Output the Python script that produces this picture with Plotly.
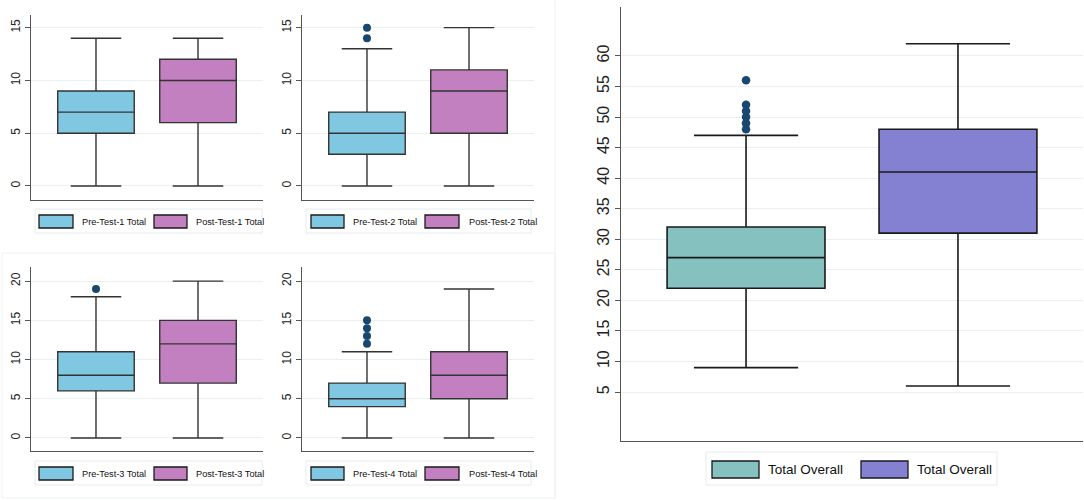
import plotly.graph_objects as go

W, H = 1084, 500

# ---------------- data ----------------
panel_labels = [
    ["Pre-Test-1 Total", "Post-Test-1 Total"],
    ["Pre-Test-2 Total", "Post-Test-2 Total"],
    ["Pre-Test-3 Total", "Post-Test-3 Total"],
    ["Pre-Test-4 Total", "Post-Test-4 Total"],
    ["Total Overall", "Total Overall"],
]
# [pre, post] for each panel
lower_whisker = [[0, 0], [0, 0], [0, 0], [0, 0], [9, 6]]
q1_vals = [[5, 6], [3, 5], [6, 7], [4, 5], [22, 31]]
median_vals = [[7, 10], [5, 9], [8, 12], [5, 8], [27, 41]]
q3_vals = [[9, 12], [7, 11], [11, 15], [7, 11], [32, 48]]
upper_whisker = [[14, 14], [13, 15], [18, 20], [11, 19], [47, 62]]
outliers = [
    [[], []],
    [[14, 15], []],
    [[19], []],
    [[12, 13, 14, 15], []],
    [[48, 49, 50, 51, 52, 56], []],
]
y_ticks = [
    [0, 5, 10, 15],
    [0, 5, 10, 15],
    [0, 5, 10, 15, 20],
    [0, 5, 10, 15, 20],
    [5, 10, 15, 20, 25, 30, 35, 40, 45, 50, 55, 60],
]
y_ranges = [[-1.33, 16.2], [-1.33, 16.2], [-1.66, 21.8], [-1.66, 21.8], [-3.0, 68.0]]

small_colors = ["#80c8e2", "#c280c0"]
big_colors = ["#84c1bf", "#8481d3"]
outlier_color = "#1a476f"
grid_color = "#e9f0f2"

# ---------------- layout geometry (pixels) ----------------
# (x0, x1, ybottom, ytop)
panels_px = [
    (31, 263, 200, 15),
    (302, 534, 200, 15),
    (31, 263, 451, 267),
    (302, 534, 451, 267),
    (621, 1083, 441, 7),
]
x_ranges = [[-0.637, 1.637]] * 4 + [[-0.59, 1.59]]

def px(x):
    return x / W

def py(y):
    return 1 - y / H

fig = go.Figure()
layout = dict(
    width=W, height=H, margin=dict(l=0, r=0, t=0, b=0),
    paper_bgcolor="white", plot_bgcolor="white", showlegend=False,
    font=dict(family="Liberation Sans, Arial, sans-serif", color="#222"),
)
shapes = []
annotations = []

for i in range(5):
    xa = "x" if i == 0 else f"x{i+1}"
    ya = "y" if i == 0 else f"y{i+1}"
    big = i == 4
    colors = big_colors if big else small_colors
    line_col = "#1a1a1a" if big else "#333333"
    for j in range(2):
        fig.add_trace(go.Box(
            x=[j], q1=[q1_vals[i][j]], median=[median_vals[i][j]], q3=[q3_vals[i][j]],
            lowerfence=[lower_whisker[i][j]], upperfence=[upper_whisker[i][j]],
            width=0.75 if not big else 0.745, whiskerwidth=0.66,
            fillcolor=colors[j], line=dict(color=line_col, width=1.6 if big else 1.4),
            boxpoints=False, xaxis=xa, yaxis=ya, name=panel_labels[i][j],
            hoverinfo="skip",
        ))
        if outliers[i][j]:
            fig.add_trace(go.Scatter(
                x=[j] * len(outliers[i][j]), y=outliers[i][j], mode="markers",
                marker=dict(color=outlier_color, size=8 if not big else 8.5),
                xaxis=xa, yaxis=ya, hoverinfo="skip",
            ))
    x0, x1, yb, yt = panels_px[i]
    key = "" if i == 0 else str(i + 1)
    layout["xaxis" + key] = dict(
        domain=[px(x0), px(x1)], range=x_ranges[i], anchor=ya,
        showline=True, linecolor="#555", linewidth=1.2,
        showgrid=False, zeroline=False, showticklabels=False, ticks="",
        fixedrange=True,
    )
    layout["yaxis" + key] = dict(
        domain=[py(yb), py(yt)], range=y_ranges[i], anchor=xa,
        showline=True, linecolor="#555", linewidth=1.2,
        showgrid=True, gridcolor=grid_color, gridwidth=1, zeroline=False,
        tickvals=y_ticks[i], ticks="outside", ticklen=5, tickcolor="#555",
        tickangle=-90, tickfont=dict(size=16 if big else 12, color="#222"),
        fixedrange=True,
    )

# ---------------- legends (drawn as frame + swatches + text) ----------------
legend_specs = [
    dict(frame=(35, 262, 209, 233), sw=[(39, 73), (154, 187)], swy=(215, 228), tx=[81, 195], fs=9.2),
    dict(frame=(306, 531, 209, 233), sw=[(311, 344), (425, 459)], swy=(215, 228), tx=[352, 468], fs=9.2),
    dict(frame=(35, 262, 461, 485), sw=[(39, 73), (154, 187)], swy=(467, 480), tx=[81, 195], fs=9.2),
    dict(frame=(306, 531, 461, 485), sw=[(311, 344), (425, 459)], swy=(467, 480), tx=[352, 468], fs=9.2),
    dict(frame=(706, 997, 452, 485), sw=[(712, 759), (861, 908)], swy=(461, 478), tx=[767, 916], fs=13.5),
]
for i, spec in enumerate(legend_specs):
    colors = big_colors if i == 4 else small_colors
    fx0, fx1, fy0, fy1 = spec["frame"]
    shapes.append(dict(type="rect", xref="paper", yref="paper",
                       x0=px(fx0), x1=px(fx1), y0=py(fy1), y1=py(fy0),
                       line=dict(color="#e6ecee", width=1), fillcolor="rgba(0,0,0,0)"))
    for j in range(2):
        sx0, sx1 = spec["sw"][j]
        sy0, sy1 = spec["swy"]
        shapes.append(dict(type="rect", xref="paper", yref="paper",
                           x0=px(sx0), x1=px(sx1), y0=py(sy1), y1=py(sy0),
                           line=dict(color="#1a1a1a", width=1.3), fillcolor=colors[j]))
        annotations.append(dict(
            xref="paper", yref="paper", x=px(spec["tx"][j]), y=py((sy0 + sy1) / 2),
            xanchor="left", yanchor="middle", showarrow=False, borderpad=0,
            text=panel_labels[i][j],
            font=dict(family="Liberation Sans, Arial", size=spec["fs"], color="#111"),
        ))

# faint panel frames
shapes.append(dict(type="rect", xref="paper", yref="paper",
                   x0=px(2), x1=px(555), y0=py(498), y1=py(253),
                   line=dict(color="#eef2f3", width=1), fillcolor="rgba(0,0,0,0)"))
shapes.append(dict(type="line", xref="paper", yref="paper",
                   x0=px(555), x1=px(555), y0=py(498), y1=py(1),
                   line=dict(color="#eef2f3", width=1)))

layout["shapes"] = shapes
layout["annotations"] = annotations
fig.update_layout(**layout)
fig.write_html("out.html", config={"displayModeBar": False},
               post_script="document.body.style.margin='0';document.body.style.padding='0';")
